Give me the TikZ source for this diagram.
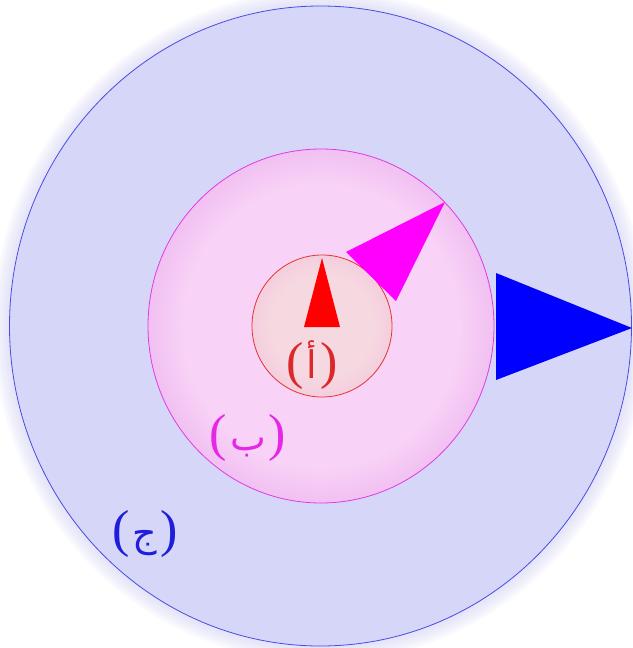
\documentclass[tikz,border=0pt]{standalone}
\usepackage{fontspec}
\newfontfamily\arabicfont[Script=Arabic]{DejaVu Sans}
\newfontfamily\parfont{Liberation Serif}
\TeXXeTstate=1
\definecolor{outerfill}{RGB}{214,214,249}
\definecolor{outerline}{RGB}{75,75,225}
\definecolor{midin}{RGB}{248,210,247}
\definecolor{midout}{RGB}{241,192,241}
\definecolor{midline}{RGB}{225,60,225}
\definecolor{innin}{RGB}{246,216,224}
\definecolor{innout}{RGB}{244,206,222}
\definecolor{innline}{RGB}{230,50,50}
\definecolor{redtri}{RGB}{255,0,0}
\definecolor{magtri}{RGB}{255,0,255}
\definecolor{bluetri}{RGB}{0,0,255}
\definecolor{labA}{RGB}{220,40,40}
\definecolor{labB}{RGB}{230,40,230}
\definecolor{labC}{RGB}{30,30,220}
\pgfdeclareradialshading{midshade}{\pgfpoint{0bp}{0bp}}{color(0bp)=(midin); color(20bp)=(midin); color(25bp)=(midout); color(50bp)=(midout)}
\pgfdeclareradialshading{innshade}{\pgfpoint{0bp}{0bp}}{color(0bp)=(innin); color(18bp)=(innin); color(25bp)=(innout); color(50bp)=(innout)}
\newcommand{\arlab}[2]{{\parfont\fontsize{52}{56}\selectfont(}\hspace{#2}{\arabicfont\fontsize{38}{42}\selectfont\beginR #1\endR}\hspace{#2}{\parfont\fontsize{52}{56}\selectfont)}}
\tikzset{
  ring/.style={line width=0.8pt},
  lab/.style={inner sep=0pt},
}
\begin{document}
\begin{tikzpicture}[x=1pt,y=-1pt]
\useasboundingbox (0,0) rectangle (632,648);
\fill[white] (0,0) rectangle (632,648);
% soft halo outside the big circle
\foreach \d in {2,4,...,16}
  \fill[outerfill, opacity=0.10] (320.5,326) ellipse [x radius={(311+\d)*1pt}, y radius={(320+\d)*1pt}];
% outer disc
\fill[outerfill] (320.5,326) ellipse [x radius=311pt, y radius=320pt];
\draw[ring, outerline] (320.5,326) ellipse [x radius=311pt, y radius=320pt];
% middle disc
\shade[shading=midshade] (321,326) ellipse [x radius=173pt, y radius=177pt];
\draw[ring, midline] (321,326) ellipse [x radius=173pt, y radius=177pt];
% inner disc
\shade[shading=innshade] (322,326) ellipse [x radius=70pt, y radius=71pt];
\draw[ring, innline] (322,326) ellipse [x radius=70pt, y radius=71pt];
% triangles
\fill[redtri] (322,258) -- (340,327) -- (304,327) -- cycle;
\fill[magtri] (445,202) -- (396,301) -- (346,252) -- cycle;
\fill[bluetri] (496,273) -- (632,328) -- (496,380) -- cycle;
% labels
\node[lab, text=labA] (la) at (312,365) {\arlab{أ}{3pt}};
\node[lab, text=labB] (lb) at (248,438) {\arlab{ب}{3pt}};
\node[lab, text=labC] (lc) at (145,534) {\arlab{ج}{3pt}};
\end{tikzpicture}
\end{document}
